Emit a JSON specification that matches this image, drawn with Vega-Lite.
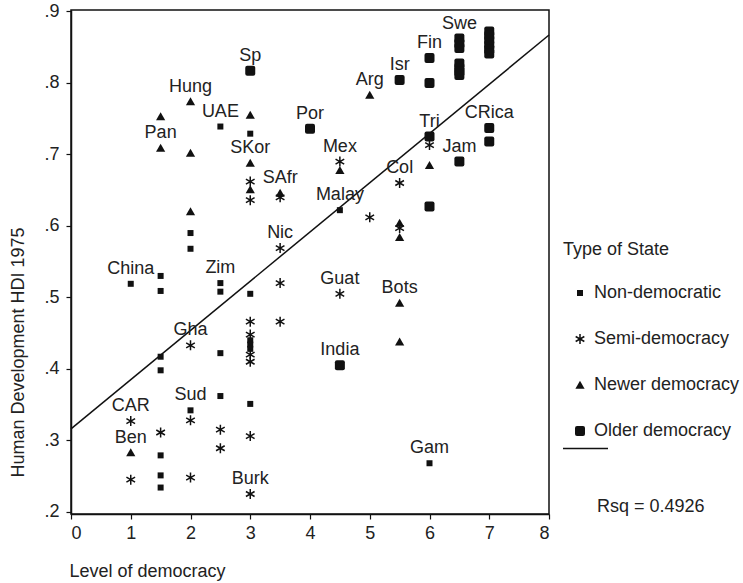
{
  "$schema": "https://vega.github.io/schema/vega-lite/v6.json",
  "width": 478,
  "height": 504,
  "autosize": {"type": "none"},
  "padding": {"left": 71, "top": 10, "right": 194, "bottom": 69},
  "background": "white",
  "config": {
    "font": "Liberation Sans",
    "view": {"stroke": "#111", "strokeWidth": 1.5},
    "axis": {
      "domainColor": "#111", "domainWidth": 1.5, "tickColor": "#111", "tickWidth": 1.2, "tickSize": 5,
      "labelFont": "Liberation Sans", "labelFontSize": 18, "labelColor": "#222",
      "titleFont": "Liberation Sans", "titleFontSize": 18, "titleFontWeight": "normal", "titleColor": "#222",
      "grid": false
    },
    "legend": {
      "titleFont": "Liberation Sans", "titleFontSize": 18, "titleFontWeight": "normal", "titleColor": "#222",
      "labelFont": "Liberation Sans", "labelFontSize": 18, "labelColor": "#222", "padding": 0
    }
  },
  "datasets": {
    "fit": [
      {"d": 0, "hdi": 0.316, "series": "Linear fit"},
      {"d": 8, "hdi": 0.867, "series": "Linear fit"}
    ],
    "states": [
      {"d": 2.5, "hdi": 0.739, "type": "Non-democratic", "label": "UAE"},
      {"d": 3, "hdi": 0.729, "type": "Non-democratic"},
      {"d": 2, "hdi": 0.590, "type": "Non-democratic"},
      {"d": 2, "hdi": 0.568, "type": "Non-democratic"},
      {"d": 1, "hdi": 0.519, "type": "Non-democratic", "label": "China"},
      {"d": 1.5, "hdi": 0.530, "type": "Non-democratic"},
      {"d": 1.5, "hdi": 0.509, "type": "Non-democratic"},
      {"d": 2.5, "hdi": 0.520, "type": "Non-democratic", "label": "Zim"},
      {"d": 2.5, "hdi": 0.508, "type": "Non-democratic"},
      {"d": 3, "hdi": 0.505, "type": "Non-democratic"},
      {"d": 4.5, "hdi": 0.622, "type": "Non-democratic", "label": "Malay"},
      {"d": 1.5, "hdi": 0.417, "type": "Non-democratic"},
      {"d": 1.5, "hdi": 0.398, "type": "Non-democratic"},
      {"d": 2.5, "hdi": 0.422, "type": "Non-democratic"},
      {"d": 3, "hdi": 0.440, "type": "Non-democratic"},
      {"d": 3, "hdi": 0.434, "type": "Non-democratic"},
      {"d": 3, "hdi": 0.428, "type": "Non-democratic"},
      {"d": 2.5, "hdi": 0.362, "type": "Non-democratic"},
      {"d": 2, "hdi": 0.342, "type": "Non-democratic", "label": "Sud"},
      {"d": 3, "hdi": 0.351, "type": "Non-democratic"},
      {"d": 1.5, "hdi": 0.279, "type": "Non-democratic"},
      {"d": 1.5, "hdi": 0.251, "type": "Non-democratic"},
      {"d": 1.5, "hdi": 0.234, "type": "Non-democratic"},
      {"d": 6, "hdi": 0.268, "type": "Non-democratic", "label": "Gam"},
      {"d": 3, "hdi": 0.662, "type": "Semi-democracy"},
      {"d": 3, "hdi": 0.636, "type": "Semi-democracy"},
      {"d": 3.5, "hdi": 0.640, "type": "Semi-democracy"},
      {"d": 4.5, "hdi": 0.690, "type": "Semi-democracy", "label": "Mex"},
      {"d": 6, "hdi": 0.713, "type": "Semi-democracy"},
      {"d": 5.5, "hdi": 0.660, "type": "Semi-democracy", "label": "Col"},
      {"d": 5, "hdi": 0.612, "type": "Semi-democracy"},
      {"d": 5.5, "hdi": 0.597, "type": "Semi-democracy"},
      {"d": 3.5, "hdi": 0.569, "type": "Semi-democracy", "label": "Nic"},
      {"d": 3.5, "hdi": 0.520, "type": "Semi-democracy"},
      {"d": 4.5, "hdi": 0.505, "type": "Semi-democracy", "label": "Guat"},
      {"d": 3, "hdi": 0.466, "type": "Semi-democracy"},
      {"d": 3.5, "hdi": 0.466, "type": "Semi-democracy"},
      {"d": 3, "hdi": 0.448, "type": "Semi-democracy"},
      {"d": 3, "hdi": 0.420, "type": "Semi-democracy"},
      {"d": 3, "hdi": 0.410, "type": "Semi-democracy"},
      {"d": 2, "hdi": 0.433, "type": "Semi-democracy", "label": "Gha"},
      {"d": 1, "hdi": 0.327, "type": "Semi-democracy", "label": "CAR"},
      {"d": 1.5, "hdi": 0.311, "type": "Semi-democracy"},
      {"d": 2, "hdi": 0.328, "type": "Semi-democracy"},
      {"d": 2.5, "hdi": 0.315, "type": "Semi-democracy"},
      {"d": 2.5, "hdi": 0.289, "type": "Semi-democracy"},
      {"d": 3, "hdi": 0.306, "type": "Semi-democracy"},
      {"d": 1, "hdi": 0.245, "type": "Semi-democracy"},
      {"d": 2, "hdi": 0.248, "type": "Semi-democracy"},
      {"d": 3, "hdi": 0.225, "type": "Semi-democracy", "label": "Burk"},
      {"d": 2, "hdi": 0.774, "type": "Newer democracy", "label": "Hung"},
      {"d": 1.5, "hdi": 0.753, "type": "Newer democracy"},
      {"d": 1.5, "hdi": 0.709, "type": "Newer democracy", "label": "Pan"},
      {"d": 2, "hdi": 0.702, "type": "Newer democracy"},
      {"d": 3, "hdi": 0.755, "type": "Newer democracy"},
      {"d": 3, "hdi": 0.688, "type": "Newer democracy", "label": "SKor"},
      {"d": 5, "hdi": 0.783, "type": "Newer democracy", "label": "Arg"},
      {"d": 4.5, "hdi": 0.678, "type": "Newer democracy"},
      {"d": 6, "hdi": 0.685, "type": "Newer democracy"},
      {"d": 3, "hdi": 0.651, "type": "Newer democracy"},
      {"d": 3.5, "hdi": 0.646, "type": "Newer democracy", "label": "SAfr"},
      {"d": 5.5, "hdi": 0.604, "type": "Newer democracy"},
      {"d": 5.5, "hdi": 0.584, "type": "Newer democracy"},
      {"d": 2, "hdi": 0.620, "type": "Newer democracy"},
      {"d": 5.5, "hdi": 0.492, "type": "Newer democracy", "label": "Bots"},
      {"d": 5.5, "hdi": 0.438, "type": "Newer democracy"},
      {"d": 1, "hdi": 0.283, "type": "Newer democracy", "label": "Ben"},
      {"d": 3, "hdi": 0.817, "type": "Older democracy", "label": "Sp"},
      {"d": 4, "hdi": 0.736, "type": "Older democracy", "label": "Por"},
      {"d": 5.5, "hdi": 0.804, "type": "Older democracy", "label": "Isr"},
      {"d": 6, "hdi": 0.835, "type": "Older democracy", "label": "Fin"},
      {"d": 6, "hdi": 0.800, "type": "Older democracy"},
      {"d": 6.5, "hdi": 0.862, "type": "Older democracy", "label": "Swe"},
      {"d": 6.5, "hdi": 0.855, "type": "Older democracy"},
      {"d": 6.5, "hdi": 0.849, "type": "Older democracy"},
      {"d": 6.5, "hdi": 0.827, "type": "Older democracy"},
      {"d": 6.5, "hdi": 0.821, "type": "Older democracy"},
      {"d": 6.5, "hdi": 0.816, "type": "Older democracy"},
      {"d": 6.5, "hdi": 0.811, "type": "Older democracy"},
      {"d": 7, "hdi": 0.872, "type": "Older democracy"},
      {"d": 7, "hdi": 0.866, "type": "Older democracy"},
      {"d": 7, "hdi": 0.860, "type": "Older democracy"},
      {"d": 7, "hdi": 0.853, "type": "Older democracy"},
      {"d": 7, "hdi": 0.847, "type": "Older democracy"},
      {"d": 7, "hdi": 0.841, "type": "Older democracy"},
      {"d": 6, "hdi": 0.725, "type": "Older democracy", "label": "Tri"},
      {"d": 7, "hdi": 0.737, "type": "Older democracy", "label": "CRica"},
      {"d": 7, "hdi": 0.718, "type": "Older democracy"},
      {"d": 6.5, "hdi": 0.690, "type": "Older democracy", "label": "Jam"},
      {"d": 6, "hdi": 0.627, "type": "Older democracy"},
      {"d": 4.5, "hdi": 0.405, "type": "Older democracy", "label": "India"}
    ]
  },
  "encoding": {
    "x": {
      "field": "d", "type": "quantitative",
      "scale": {"domain": [0, 8], "nice": false, "zero": false},
      "axis": {
        "values": [0, 1, 2, 3, 4, 5, 6, 7, 8], "format": "d", "labelPadding": 5,
        "title": "Level of democracy", "titleAnchor": "start", "titleAlign": "left",
        "titleBaseline": "middle", "titleX": -2, "titleY": 57
      }
    },
    "y": {
      "field": "hdi", "type": "quantitative",
      "scale": {"domain": [0.197, 0.902], "nice": false, "zero": false},
      "axis": {
        "values": [0.2, 0.3, 0.4, 0.5, 0.6, 0.7, 0.8, 0.9],
        "labelExpr": "substring(format(datum.value, '.1f'), 1)", "labelPadding": 7,
        "title": "Human Development HDI 1975", "titleAngle": -90, "titleAlign": "center",
        "titleBaseline": "middle", "titleX": -53, "titleY": 342
      }
    }
  },
  "layer": [
    {
      "data": {"name": "fit"},
      "mark": {"type": "line", "strokeWidth": 1.5},
      "encoding": {
        "color": {
          "field": "series", "type": "nominal",
          "scale": {"range": ["#111"]},
          "legend": {
            "orient": "none", "legendX": 526, "legendY": 415,
            "title": "Rsq = 0.4926", "titleOrient": "bottom", "titleAnchor": "start", "titlePadding": 40,
            "labelExpr": "''", "symbolSize": 2025, "symbolStrokeWidth": 1.5, "symbolOffset": -35,
            "symbolStrokeColor": "#111"
          }
        }
      }
    },
    {
      "data": {"name": "states"},
      "mark": {"type": "point", "filled": true, "fill": "#111", "strokeWidth": 0, "size": 100, "opacity": 1},
      "encoding": {
        "shape": {
          "field": "type", "type": "nominal",
          "scale": {
            "domain": ["Non-democratic", "Semi-democracy", "Newer democracy", "Older democracy"],
            "range": [
              "M-0.6,-0.6H0.6V0.6H-0.6Z",
              "M-0.15,-1H0.15V1H-0.15ZM-0.941,-0.37L-0.791,-0.63L0.941,0.37L0.791,0.63ZM-0.941,0.37L0.791,-0.63L0.941,-0.37L-0.791,0.63Z",
              "M0,-0.85L0.92,0.75L-0.92,0.75Z",
              "M-1,-0.6Q-1,-1,-0.6,-1L0.6,-1Q1,-1,1,-0.6L1,0.6Q1,1,0.6,1L-0.6,1Q-1,1,-1,0.6Z"
            ]
          },
          "legend": {
            "orient": "none", "legendX": 492, "legendY": 231,
            "title": "Type of State", "titlePadding": 25, "rowPadding": 28,
            "symbolSize": 100, "symbolOffset": 8, "labelOffset": 5,
            "symbolFillColor": "#111", "symbolStrokeWidth": 0, "symbolOpacity": 1
          }
        }
      }
    },
    {
      "data": {"name": "states"},
      "transform": [{"filter": "isValid(datum.label)"}],
      "mark": {"type": "text", "dy": -10, "baseline": "alphabetic", "align": "center", "fontSize": 18, "font": "Liberation Sans", "color": "#222"},
      "encoding": {
        "text": {"field": "label", "type": "nominal"}
      }
    }
  ]
}
